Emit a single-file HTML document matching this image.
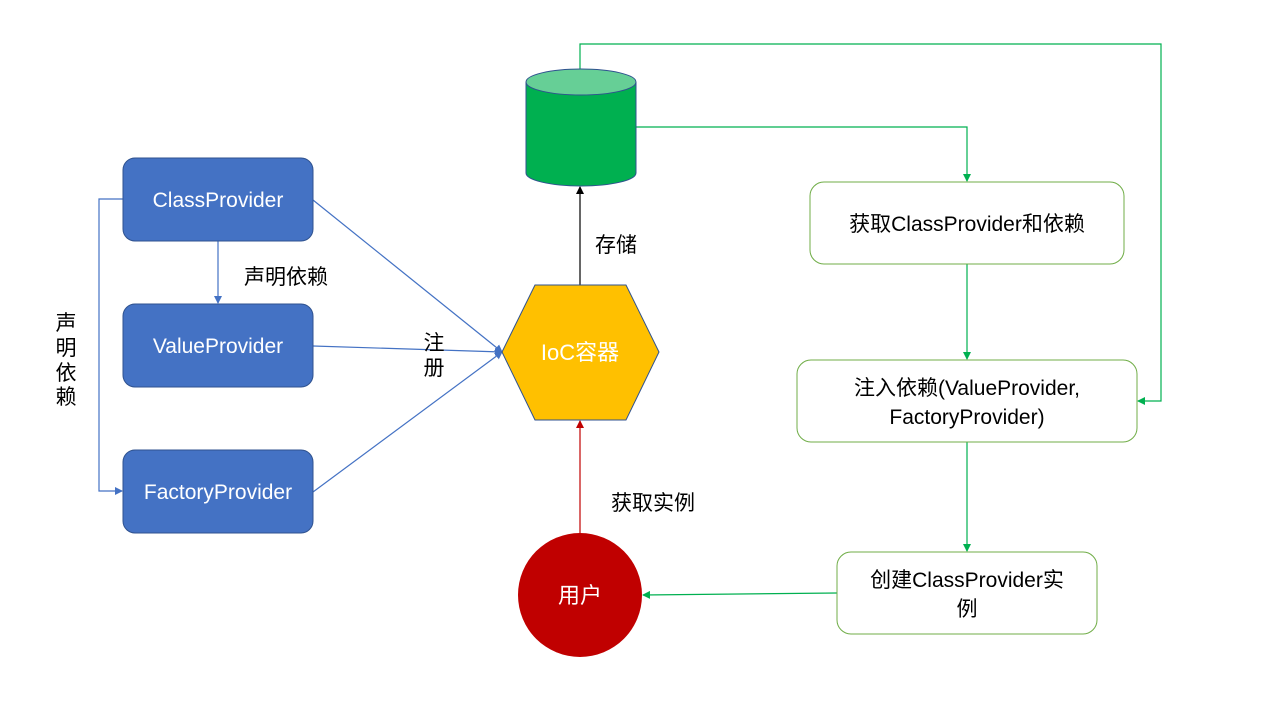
<!DOCTYPE html>
<html><head><meta charset="utf-8"><style>
html,body{margin:0;padding:0;background:#fff;}
svg{display:block;}
text{font-family:"Liberation Sans","Noto Sans CJK SC",sans-serif;}
</style></head><body>
<svg width="1280" height="720" viewBox="0 0 1280 720" xmlns="http://www.w3.org/2000/svg">
<defs>
<marker id="ab" markerWidth="8" markerHeight="8" refX="7" refY="4" orient="auto" markerUnits="userSpaceOnUse"><path d="M0,0 L8,4 L0,8 z" fill="#4472C4"/></marker>
<marker id="ag" markerWidth="8" markerHeight="8" refX="7" refY="4" orient="auto" markerUnits="userSpaceOnUse"><path d="M0,0 L8,4 L0,8 z" fill="#00B050"/></marker>
<marker id="ak" markerWidth="8" markerHeight="8" refX="7" refY="4" orient="auto" markerUnits="userSpaceOnUse"><path d="M0,0 L8,4 L0,8 z" fill="#000"/></marker>
<marker id="ar" markerWidth="8" markerHeight="8" refX="7" refY="4" orient="auto" markerUnits="userSpaceOnUse"><path d="M0,0 L8,4 L0,8 z" fill="#C00000"/></marker>
</defs>
<!-- green connectors -->
<polyline points="580,70 580,44 1161,44 1161,401 1138,401" fill="none" stroke="#00B050" stroke-width="1.2" marker-end="url(#ag)"/>
<polyline points="636,127 967,127 967,181" fill="none" stroke="#00B050" stroke-width="1.2" marker-end="url(#ag)"/>
<line x1="967" y1="264" x2="967" y2="359" stroke="#00B050" stroke-width="1.2" marker-end="url(#ag)"/>
<line x1="967" y1="442" x2="967" y2="551" stroke="#00B050" stroke-width="1.2" marker-end="url(#ag)"/>
<line x1="837" y1="593" x2="643" y2="595" stroke="#00B050" stroke-width="1.2" marker-end="url(#ag)"/>
<!-- blue connectors -->
<polyline points="123,199 99,199 99,491 122,491" fill="none" stroke="#4472C4" stroke-width="1.2" marker-end="url(#ab)"/>
<line x1="218" y1="241" x2="218" y2="303" stroke="#4472C4" stroke-width="1.2" marker-end="url(#ab)"/>
<line x1="313" y1="200" x2="502" y2="352" stroke="#4472C4" stroke-width="1.2" marker-end="url(#ab)"/>
<line x1="313" y1="346" x2="502" y2="352" stroke="#4472C4" stroke-width="1.2" marker-end="url(#ab)"/>
<line x1="313" y1="492" x2="502" y2="352" stroke="#4472C4" stroke-width="1.2" marker-end="url(#ab)"/>
<!-- black / red -->
<line x1="580" y1="285" x2="580" y2="187" stroke="#000" stroke-width="1.2" marker-end="url(#ak)"/>
<line x1="580" y1="533" x2="580" y2="421" stroke="#C00000" stroke-width="1.2" marker-end="url(#ar)"/>
<!-- cylinder -->
<path d="M526,82 L526,173 A55,13 0 0 0 636,173 L636,82" fill="#00B050" stroke="#2F528F" stroke-width="1"/>
<ellipse cx="581" cy="82" rx="55" ry="13" fill="#66CF96" stroke="#2F528F" stroke-width="1"/>
<!-- hexagon -->
<polygon points="535,285 626,285 659,352 626,420 535,420 502,352" fill="#FFC000" stroke="#2F528F" stroke-width="1"/>
<text x="580" y="360" font-size="22" fill="#fff" text-anchor="middle">IoC容器</text>
<!-- user -->
<circle cx="580" cy="595" r="62" fill="#C00000"/>
<text x="580" y="603" font-size="22" fill="#fff" text-anchor="middle">用户</text>
<!-- blue boxes -->
<rect x="123" y="158" width="190" height="83" rx="12" fill="#4472C4" stroke="#2F528F"/>
<text x="218" y="207" font-size="21" fill="#fff" text-anchor="middle">ClassProvider</text>
<rect x="123" y="304" width="190" height="83" rx="12" fill="#4472C4" stroke="#2F528F"/>
<text x="218" y="353" font-size="21" fill="#fff" text-anchor="middle">ValueProvider</text>
<rect x="123" y="450" width="190" height="83" rx="12" fill="#4472C4" stroke="#2F528F"/>
<text x="218" y="499" font-size="21" fill="#fff" text-anchor="middle">FactoryProvider</text>
<!-- green boxes -->
<rect x="810" y="182" width="314" height="82" rx="14" fill="#fff" stroke="#70AD47"/>
<text x="967" y="231" font-size="21" fill="#000" text-anchor="middle">获取ClassProvider和依赖</text>
<rect x="797" y="360" width="340" height="82" rx="14" fill="#fff" stroke="#70AD47"/>
<text x="967" y="395" font-size="21" fill="#000" text-anchor="middle">注入依赖(ValueProvider,</text>
<text x="967" y="424" font-size="21" fill="#000" text-anchor="middle">FactoryProvider)</text>
<rect x="837" y="552" width="260" height="82" rx="14" fill="#fff" stroke="#70AD47"/>
<text x="967" y="587" font-size="21" fill="#000" text-anchor="middle">创建ClassProvider实</text>
<text x="967" y="616" font-size="21" fill="#000" text-anchor="middle">例</text>
<!-- labels -->
<text x="244" y="284" font-size="21" fill="#000">声明依赖</text>
<text x="66" y="330" font-size="21" fill="#000" text-anchor="middle">声</text>
<text x="66" y="355" font-size="21" fill="#000" text-anchor="middle">明</text>
<text x="66" y="380" font-size="21" fill="#000" text-anchor="middle">依</text>
<text x="66" y="404" font-size="21" fill="#000" text-anchor="middle">赖</text>
<text x="434" y="350" font-size="21" fill="#000" text-anchor="middle">注</text>
<text x="434" y="375" font-size="21" fill="#000" text-anchor="middle">册</text>
<text x="595" y="252" font-size="21" fill="#000">存储</text>
<text x="611" y="510" font-size="21" fill="#000">获取实例</text>
</svg>
</body></html>
